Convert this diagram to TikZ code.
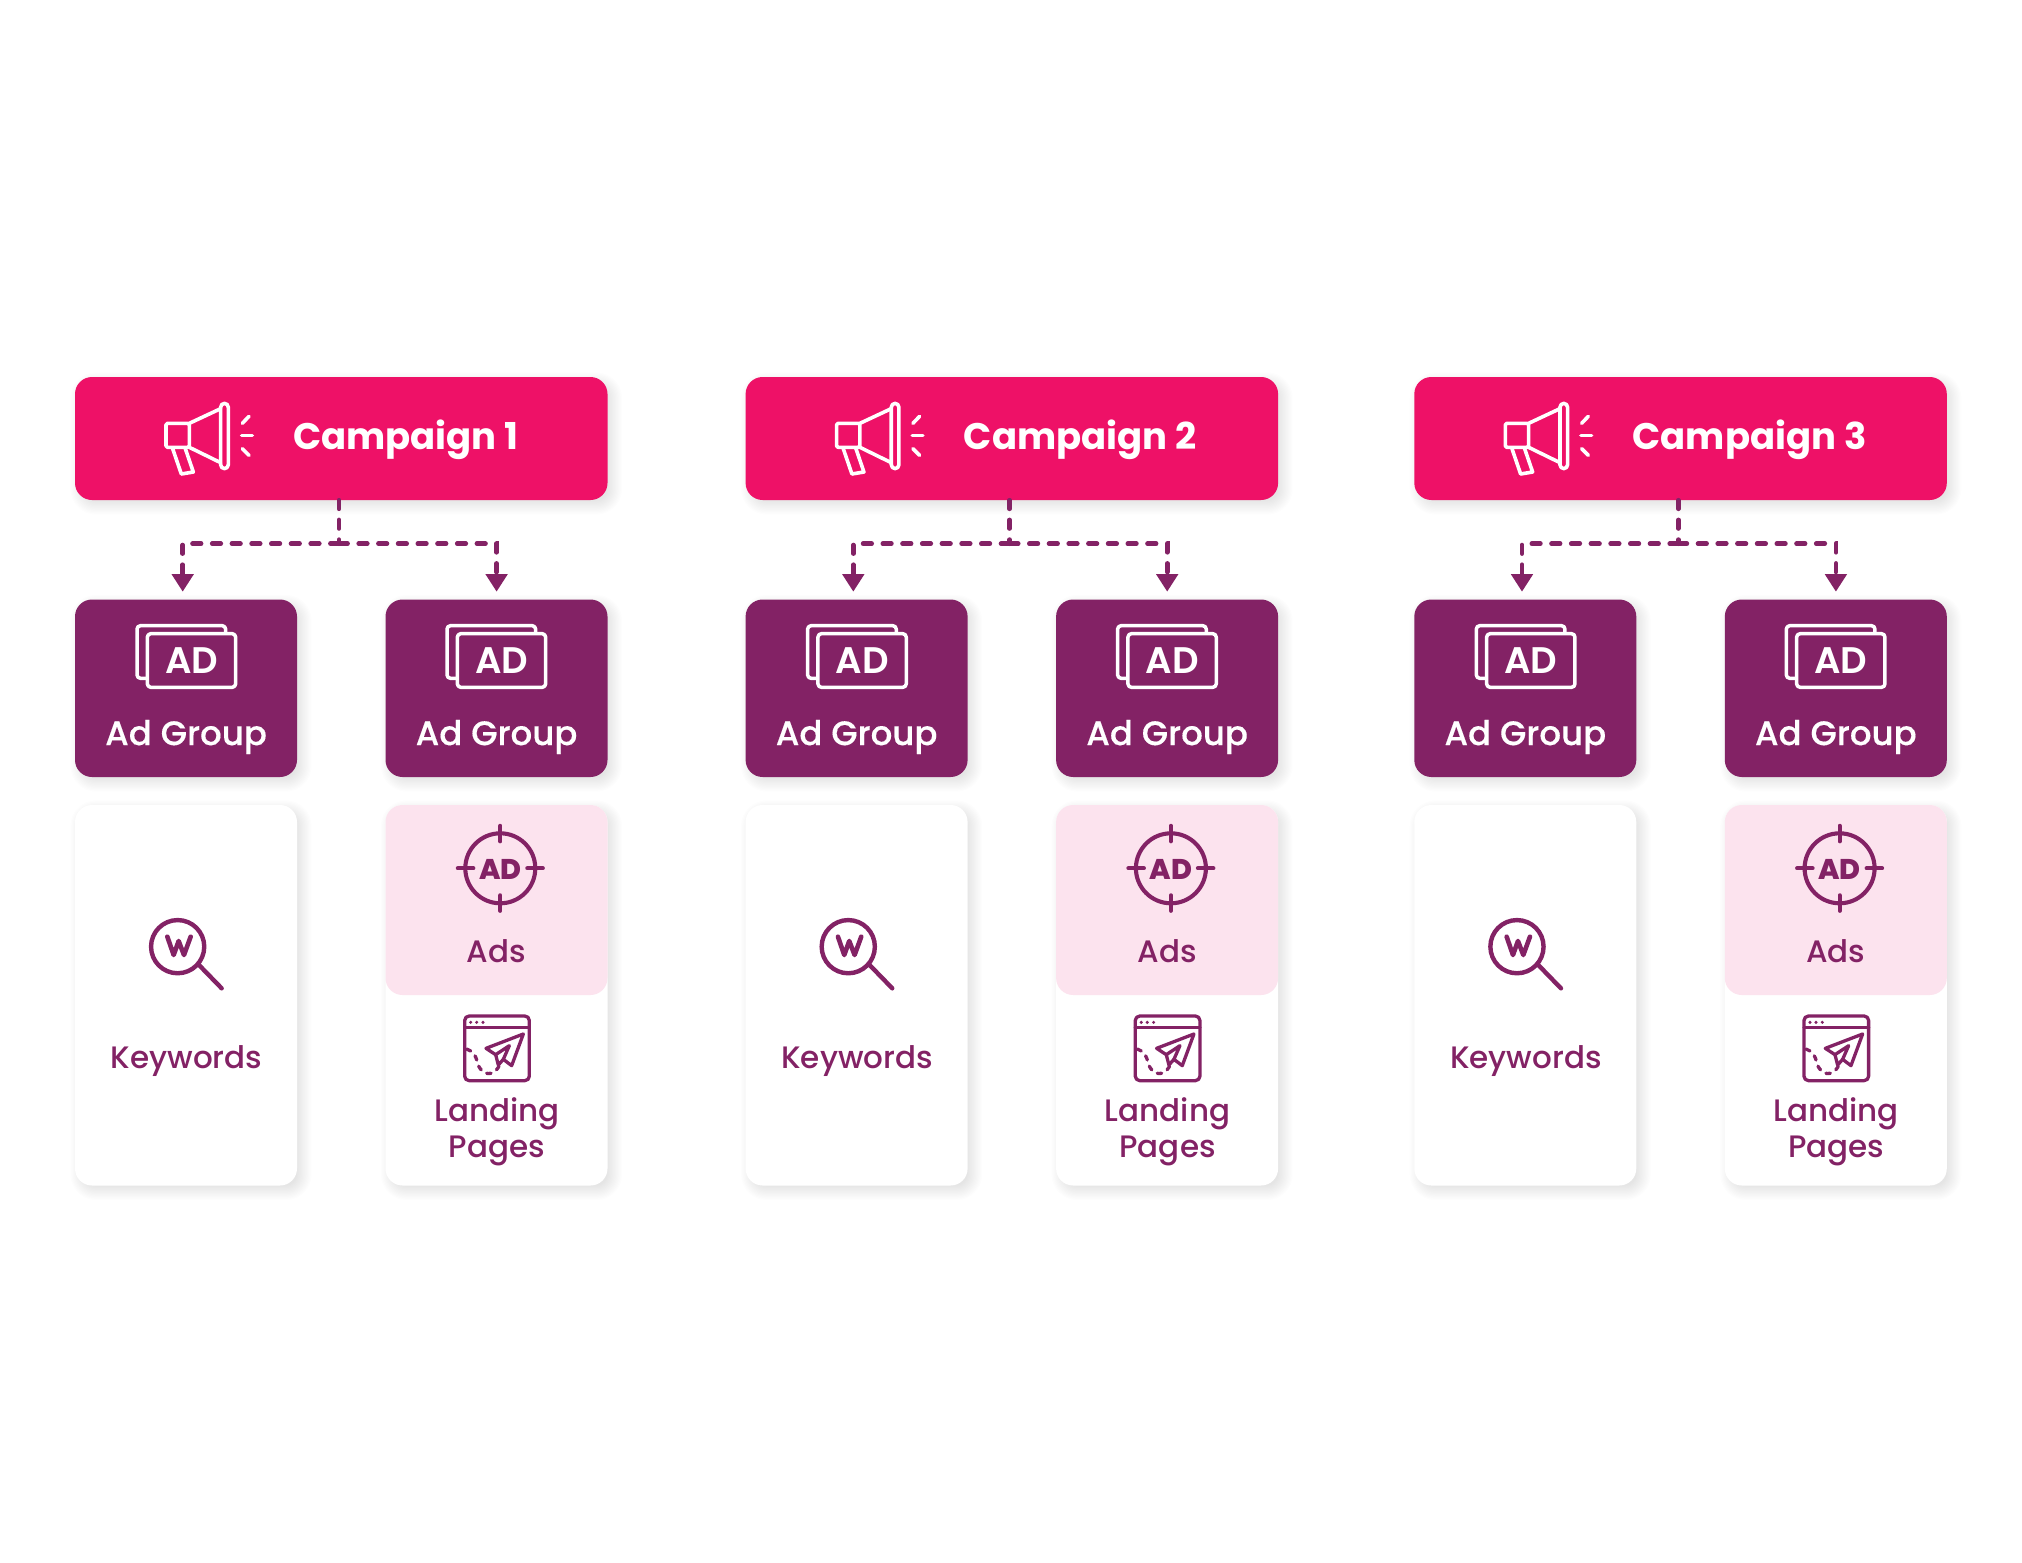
\documentclass[tikz,border=0pt]{standalone}
\usepackage{fontspec}
\setmainfont{Poppins}[UprightFont=* Medium]
\newfontfamily\popb{Poppins}[UprightFont=* Bold]
\newfontfamily\popx{Poppins}[UprightFont=* ExtraBold]
\newfontfamily\pops{Poppins}[UprightFont=* SemiBold]
\newfontfamily\popm{Poppins}[UprightFont=* Medium,FakeBold=0.3]
\usetikzlibrary{arrows.meta}
\definecolor{hotpink}{HTML}{EE1167}
\definecolor{plum}{HTML}{832265}
\definecolor{blush}{HTML}{FCE3EE}
\newcommand\softshadow[4]{%
  \foreach \i in {-4,...,8}{%
    \fill[black,opacity=.006,rounded corners={(max(6,16+\i*1.2))*1pt}]
      ({#1-\i*1.2+5},{#2-\i*1.2+5}) rectangle ({#3+\i*1.2+5},{#4+\i*1.2+5});
  }%
}
\newcommand\megaicon[2]{%
  \begin{scope}[shift={(#1,#2)},x=.3333pt,y=-.3333pt,white,line width=3.6pt,line cap=round,line join=round]
    \draw[rounded corners=1.5pt] (118,100) -- (48,100) -- (48,172) -- (118,172) -- cycle;
    \draw (118,100) -- (212,56);
    \draw (118,172) -- (212,218);
    \draw[rounded corners=4pt] (212,40) rectangle (235,236);
    \draw (68,176) -- (94,252) -- (130,246) -- (106,176);
    \draw (277,100) -- (297,79);
    \draw (275,136) -- (307,136);
    \draw (277,176) -- (297,196);
  \end{scope}%
}
\newcommand\adgroupicon[2]{%
  \begin{scope}[shift={(#1,#2)},x=.3333pt,y=-.3333pt,white,line width=3.5pt,line join=round]
    \draw[rounded corners=3.5pt] (64,190) -- (36,190) -- (36,32) -- (302,32) -- (302,56);
    \draw[rounded corners=3.5pt] (67,56) rectangle (332,217);
    \node[inner sep=0pt] at (200,136) {\pops\fontsize{37}{37}\selectfont AD};
  \end{scope}%
}
\newcommand\targeticon[2]{%
  \begin{scope}[shift={(#1,#2)},plum,line width=4.1pt,line cap=round]
    \draw (0,0) circle (35);
    \draw (-42.5,0) -- (-27,0); \draw (42.5,0) -- (27,0);
    \draw (0,-42.5) -- (0,-27); \draw (0,42.5) -- (0,27);
    \node[inner sep=0pt] at (0,1) {\popx\fontsize{28.5}{28.5}\selectfont AD};
  \end{scope}%
}
\newcommand\keyicon[2]{%
  \begin{scope}[shift={(#1,#2)},x=.3333pt,y=-.3333pt,plum,line width=4.4pt,line cap=round,line join=round]
    \draw (128,125) circle (26.6pt);
    \draw (192,180) -- (260,250);
    \draw[line width=4.6pt] (97,95) -- (116,150) -- (131,108) -- (147,150) -- (167,95);
  \end{scope}%
}
\newcommand\landicon[2]{%
  \begin{scope}[shift={(#1,#2)},x=.3333pt,y=-.3333pt,plum,line width=3.3pt,line cap=round,line join=round]
    \draw[rounded corners=4.5pt] (44,33) rectangle (238,227);
    \draw (44,68) -- (238,68);
    \fill (62,52) circle (1.7pt); \fill (80,52) circle (1.7pt); \fill (99,52) circle (1.7pt);
    \draw (220,87) -- (108,130) -- (137,149) -- (145,180) -- (160,163) -- (185,182) -- cycle;
    \draw (137,149) -- (178,122) -- (160,163);
    \draw[dash pattern=on 4.5pt off 6.5pt] (50,132) .. controls (85,145) and (78,175) .. (90,190) .. controls (105,215) and (140,210) .. (150,175);
  \end{scope}%
}
\tikzset{
  campbox/.style={rectangle,rounded corners=17pt,fill=hotpink,minimum width=532.5pt,minimum height=123pt,inner sep=0pt},
  groupbox/.style={rectangle,rounded corners=17pt,fill=plum,minimum width=222pt,minimum height=177.5pt,inner sep=0pt},
  cardbox/.style={rectangle,rounded corners=17pt,fill=white,minimum width=222pt,minimum height=380.5pt,inner sep=0pt},
  adsbox/.style={rectangle,rounded corners=17pt,fill=blush,minimum width=222pt,minimum height=190pt,inner sep=0pt},
  camptext/.style={text=white,inner sep=0pt,anchor=west,font=\popb\fontsize{37}{37}\selectfont},
  grouptext/.style={text=white,inner sep=0pt,font=\popm\fontsize{34}{34}\selectfont},
  cardtext/.style={text=plum,inner sep=0pt,align=center,font=\fontsize{31}{36.5}\selectfont},
  dashline/.style={draw=plum,line width=4.6pt,line cap=round,dash pattern=on 8.6pt off 11.1pt},
  dasharrow/.style={dashline,-{Triangle[width=21pt,length=17.5pt]}},
}
\begin{document}
\begin{tikzpicture}[x=1pt,y=-1pt]
\useasboundingbox[fill=white] (0,0) rectangle (2022,1563);
\foreach \n/\X in {1/75,2/745.6,3/1414.3}{
  \pgfmathsetmacro{\XA}{\X+111}
  \pgfmathsetmacro{\XB}{\X+421.5}
  \pgfmathsetmacro{\XC}{\X+266.25}
  \pgfmathsetmacro{\XAe}{\X+222}
  \pgfmathsetmacro{\XBs}{\X+310.5}
  \pgfmathsetmacro{\XBe}{\X+532.5}
  \softshadow{\X}{377}{\XBe}{500}
  \softshadow{\X}{599.5}{\XAe}{777}
  \softshadow{\XBs}{599.5}{\XBe}{777}
  \softshadow{\X}{805}{\XAe}{1185.5}
  \softshadow{\XBs}{805}{\XBe}{1185.5}
  \node[campbox] (c\n) at (\XC,438.5) {};
  \node[groupbox] (ga\n) at (\XA,688.25) {};
  \node[groupbox] (gb\n) at (\XB,688.25) {};
  \node[cardbox] (ka\n) at (\XA,995.25) {};
  \node[cardbox] (kb\n) at (\XB,995.25) {};
  \node[adsbox] (ad\n) at (\XB,900) {};
  \node[camptext] (ct\n) at ({\X+218},440) {Campaign \n};
  \node[grouptext] (gta\n) at ({\XA},737) {Ad Group};
  \node[grouptext] (gtb\n) at ({\XB},737) {Ad Group};
  \node[cardtext] (kt\n) at ({\XA+0.5},1061) {Keywords};
  \node[cardtext] (at\n) at ({\XB},951) {Ads};
  \node[cardtext] (lt\n) at ({\XB+0.5},1132) {Landing\\Pages};
  \megaicon{\X+75}{390}
  \adgroupicon{\X+50}{615}
  \adgroupicon{\X+360}{615}
  \targeticon{\X+425.3}{868.3}
  \keyicon{\X+60}{905}
  \landicon{\X+375}{1005}
  \coordinate (j\n) at ({\X+264},543.7);
  \coordinate (ta\n) at ({\X+107.7},591.7);
  \coordinate (tb\n) at ({\X+421.6},591.7);
  \draw[dashline] (j\n |- c\n.south) -- (j\n);
  \draw[dasharrow] (j\n) -| (ta\n);
  \draw[dasharrow] (j\n) -| (tb\n);
}
\end{tikzpicture}
\end{document}
